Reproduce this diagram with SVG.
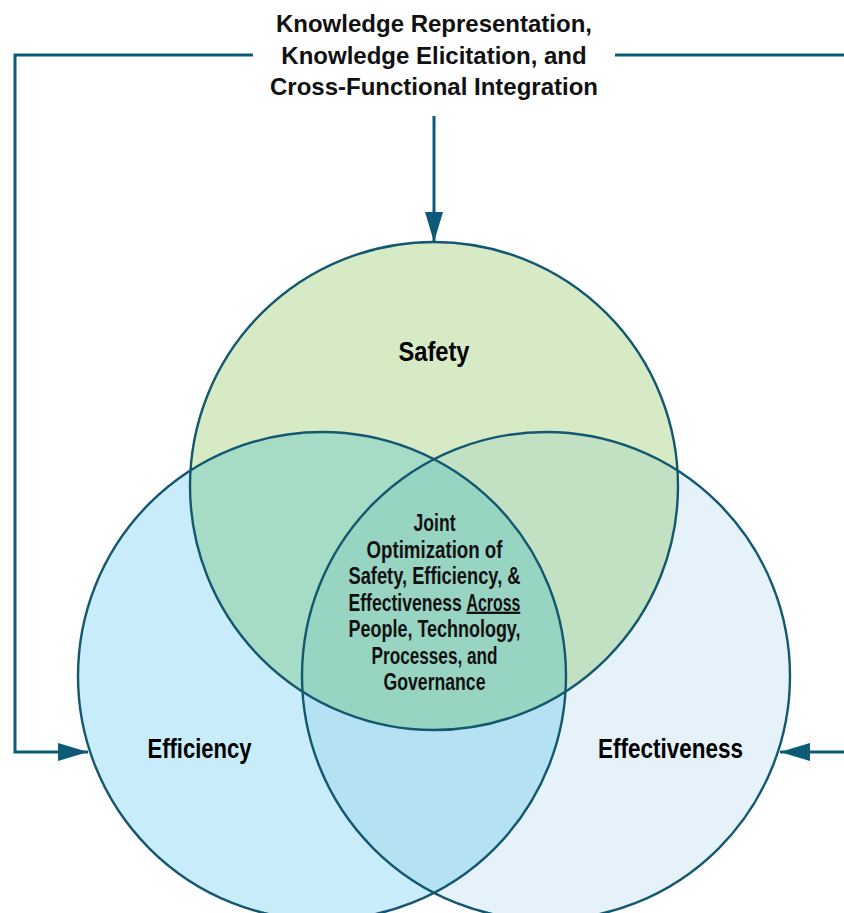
<svg xmlns="http://www.w3.org/2000/svg" width="844" height="913" viewBox="0 0 844 913">
  <style>
    .outline { fill: none; stroke: #135870; stroke-width: 2.4; }
    .conn { fill: none; stroke: #0d5a78; stroke-width: 3; }
    .title { font-family: "Liberation Sans", Arial, sans-serif; font-weight: bold; font-size: 24px; fill: #111; text-anchor: middle; }
    .label { font-family: "Liberation Sans", Arial, sans-serif; font-weight: bold; font-size: 28px; fill: #000; text-anchor: middle; }
    .center { font-family: "Liberation Sans", Arial, sans-serif; font-weight: bold; font-size: 23px; fill: #111; text-anchor: middle; }
    .left { text-anchor: start; }
  </style>
  <defs>
    <marker id="arrow" viewBox="0 0 30 18" markerWidth="30" markerHeight="18" markerUnits="userSpaceOnUse" refX="30" refY="9" orient="auto">
      <path d="M0,0 L30,9 L0,18 z" fill="#0d5a78"/>
    </marker>
    <clipPath id="clipSafety"><circle cx="434" cy="486" r="244"/></clipPath>
    <clipPath id="clipEfficiency"><circle cx="322" cy="676" r="244"/></clipPath>
    <clipPath id="clipEffectiveness"><circle cx="546" cy="676" r="244"/></clipPath>
  </defs>

  <g id="fills">
    <circle cx="434" cy="486" r="244" fill="#d6eac6"/>
    <circle cx="322" cy="676" r="244" fill="#c8ecfa"/>
    <circle cx="546" cy="676" r="244" fill="#e6f2f9"/>
    <circle cx="434" cy="486" r="244" fill="#a6dcc6" clip-path="url(#clipEfficiency)"/>
    <circle cx="434" cy="486" r="244" fill="#c2e0c2" clip-path="url(#clipEffectiveness)"/>
    <circle cx="322" cy="676" r="244" fill="#b4e2f2" clip-path="url(#clipEffectiveness)"/>
    <g clip-path="url(#clipEffectiveness)">
      <circle cx="434" cy="486" r="244" fill="#98d4c2" clip-path="url(#clipEfficiency)"/>
    </g>
  </g>

  <g id="safety">
    <circle class="outline" cx="434" cy="486" r="244"/>
    <text class="label" x="434" y="361" font-size="29" textLength="71" lengthAdjust="spacingAndGlyphs">Safety</text>
  </g>
  <g id="efficiency">
    <circle class="outline" cx="322" cy="676" r="244"/>
    <text class="label" x="199.5" y="758" textLength="104" lengthAdjust="spacingAndGlyphs">Efficiency</text>
  </g>
  <g id="effectiveness">
    <circle class="outline" cx="546" cy="676" r="244"/>
    <text class="label" x="670.5" y="758" textLength="145" lengthAdjust="spacingAndGlyphs">Effectiveness</text>
  </g>

  <g id="joint">
    <text class="center" x="434.5" y="531" textLength="42" lengthAdjust="spacingAndGlyphs">Joint</text>
    <text class="center" x="434.5" y="557.5" textLength="136" lengthAdjust="spacingAndGlyphs">Optimization of</text>
    <text class="center" x="434.5" y="584" textLength="172" lengthAdjust="spacingAndGlyphs">Safety, Efficiency, &amp;</text>
    <text class="center left" transform="translate(348.5,610.5) scale(0.765,1)" x="0" y="0">Effectiveness</text>
    <text class="center left" transform="translate(466.5,610.5) scale(0.69,1)" x="0" y="0" text-decoration="underline">Across</text>
    <text class="center" x="434.5" y="637" textLength="172" lengthAdjust="spacingAndGlyphs">People, Technology,</text>
    <text class="center" x="434.5" y="663.5" textLength="126" lengthAdjust="spacingAndGlyphs">Processes, and</text>
    <text class="center" x="434.5" y="690" textLength="102" lengthAdjust="spacingAndGlyphs">Governance</text>
  </g>

  <g id="knowledge">
    <text class="title" x="434" y="32">Knowledge Representation,</text>
    <text class="title" x="434" y="63.5">Knowledge Elicitation, and</text>
    <text class="title" x="434" y="95">Cross-Functional Integration</text>
  </g>

  <g id="connectors">
    <path class="conn" d="M253,55 H15 V752 H88" marker-end="url(#arrow)"/>
    <path class="conn" d="M615,55 H844"/>
    <path class="conn" d="M844,752 H780" marker-end="url(#arrow)"/>
    <path class="conn" d="M434,116 V242" marker-end="url(#arrow)"/>
  </g>
</svg>
